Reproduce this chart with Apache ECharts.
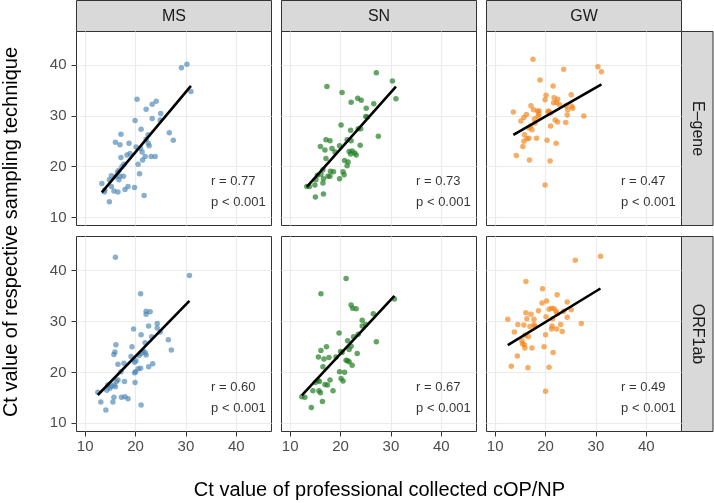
<!DOCTYPE html>
<html><head><meta charset="utf-8">
<script src="https://cdn.jsdelivr.net/npm/echarts@6/dist/echarts.min.js"></script>
<style>html,body{margin:0;padding:0;background:#fff}#c{width:714px;height:503px}</style>
</head><body><div id="c"></div>
<script>
const colNames = ['MS', 'SN', 'GW'];
const rowNames = ['E–gene', 'ORF1ab'];
const xTicks = [10, 20, 30, 40];
const yTicks = [10, 20, 30, 40];
const rValues = ['0.77', '0.73', '0.47', '0.60', '0.67', '0.49'];
const pLabel = 'p < 0.001';
const xTitle = 'Ct value of professional collected cOP/NP';
const yTitle = 'Ct value of respective sampling technique';

const MS_E = [[29.1,39.5],[30.2,40.2],[31.0,34.8],[20.3,33.3],[23.3,32.3],[24.1,32.9],[22.1,31.3],[25.0,30.5],[23.3,29.5],[19.9,29.1],[24.9,29.2],[21.1,27.4],[26.7,26.7],[27.5,25.2],[17.1,26.4],[22.5,26.3],[22.1,25.4],[16.0,24.8],[16.9,24.3],[18.7,24.6],[22.7,24.1],[22.5,24.6],[20.1,23.9],[21.0,23.6],[18.9,22.6],[18.3,22.3],[17.1,21.8],[21.3,22.9],[23.1,22.0],[23.9,22.0],[21.9,22.0],[21.4,21.3],[20.5,20.5],[17.7,20.5],[17.3,20.0],[16.7,19.3],[16.4,18.9],[20.8,18.6],[15.2,18.2],[16.0,18.0],[16.9,18.1],[17.6,18.1],[14.8,17.4],[16.7,17.4],[13.3,16.7],[13.8,15.0],[18.5,16.1],[17.9,15.5],[19.8,15.9],[15.7,15.2],[16.5,15.0],[21.7,14.3],[14.8,13.1],[15.2,16.1],[13.9,15.4]];
const SN_E = [[27.1,38.5],[30.3,36.9],[17.3,35.8],[20.3,34.6],[31.0,33.4],[23.4,33.5],[24.1,33.1],[22.1,32.7],[26.6,32.4],[25.1,31.5],[25.0,29.9],[25.3,29.8],[20.1,28.2],[23.5,27.5],[24.0,27.5],[22.0,27.2],[27.5,26.0],[17.1,25.3],[17.9,25.1],[21.3,25.3],[22.1,25.1],[16.0,24.0],[16.9,23.3],[18.3,23.6],[19.8,24.1],[23.9,24.2],[18.9,22.9],[21.7,23.0],[22.3,23.1],[22.8,22.7],[23.1,22.3],[22.0,22.5],[17.1,21.6],[20.8,21.2],[21.5,20.9],[21.3,20.2],[16.5,19.4],[16.1,18.5],[15.4,18.3],[18.0,19.1],[18.6,19.0],[20.5,19.0],[20.7,18.4],[16.6,17.6],[17.5,18.1],[17.9,18.1],[19.8,17.6],[15.1,17.4],[14.9,16.4],[13.8,16.1],[13.3,16.1],[16.5,16.8],[15.0,14.0],[16.6,14.6]];
const GW_E = [[17.5,41.2],[23.6,39.2],[30.4,39.7],[31.1,38.7],[18.9,37.1],[21.5,35.9],[25.1,34.2],[20.1,34.1],[19.9,33.2],[21.7,33.6],[22.4,33.3],[21.6,32.6],[22.2,32.6],[22.8,32.2],[17.1,32.0],[17.6,31.2],[18.4,31.0],[24.1,32.0],[25.2,31.9],[25.4,31.5],[24.4,31.2],[13.6,30.8],[16.2,30.3],[15.7,29.7],[15.1,29.0],[18.7,31.0],[18.7,30.4],[20.6,31.0],[20.5,30.8],[21.0,30.6],[24.3,30.2],[27.6,30.0],[17.8,29.4],[18.5,29.9],[21.9,29.2],[22.4,28.8],[24.0,28.7],[17.9,28.6],[17.0,28.0],[17.3,27.3],[16.7,27.6],[21.0,28.0],[15.8,26.3],[16.3,25.5],[16.7,25.6],[18.2,25.6],[15.7,25.0],[15.5,24.0],[20.3,25.2],[22.1,24.6],[14.2,22.2],[16.8,21.3],[20.9,21.1],[19.9,16.4]];
const MS_O = [[16.0,42.6],[30.7,39.0],[21.0,35.4],[22.1,32.0],[22.9,31.9],[22.1,31.4],[24.3,29.6],[24.3,28.7],[22.6,29.1],[19.6,28.5],[24.9,27.9],[21.1,27.4],[23.2,27.0],[26.5,26.4],[21.9,25.8],[16.1,25.4],[27.1,24.4],[19.3,25.0],[15.9,24.0],[15.7,23.5],[21.5,24.2],[22.1,23.4],[21.9,23.9],[20.7,23.3],[21.1,23.7],[19.1,23.1],[20.1,22.3],[19.8,22.0],[17.7,21.8],[16.5,21.6],[23.4,21.7],[22.6,21.1],[21.0,20.8],[20.5,20.7],[20.0,20.1],[19.8,19.9],[17.1,20.1],[16.5,18.5],[17.8,18.2],[16.2,18.2],[15.7,17.5],[15.2,17.3],[14.5,17.5],[16.0,17.2],[14.9,16.9],[14.3,16.5],[19.9,18.0],[12.5,16.1],[15.7,15.1],[17.2,15.1],[17.9,15.2],[18.5,14.8],[15.5,14.2],[13.1,14.2],[21.1,13.6],[14.1,12.6]];
const SN_O = [[21.1,38.4],[16.1,35.4],[22.1,33.2],[22.4,32.6],[23.1,32.5],[30.7,34.4],[26.5,31.5],[24.3,30.2],[24.3,29.1],[25.0,29.4],[19.7,27.7],[23.5,27.5],[22.6,27.0],[21.4,26.2],[27.1,26.0],[17.2,25.0],[22.1,25.1],[21.7,24.5],[16.1,24.3],[20.0,24.1],[20.3,23.9],[23.3,23.7],[15.6,23.0],[16.7,22.6],[17.7,22.9],[19.1,23.0],[21.1,22.4],[21.7,22.1],[22.3,21.4],[21.4,22.3],[16.5,21.1],[19.8,20.1],[20.8,20.0],[20.1,18.8],[20.5,18.3],[17.9,18.5],[17.4,17.5],[15.5,18.4],[15.8,18.2],[15.0,18.0],[16.9,17.6],[18.5,16.4],[14.5,16.4],[15.7,16.4],[16.0,16.0],[12.3,15.2],[12.9,15.1],[16.4,14.3],[14.2,13.1]];
const GW_O = [[25.9,42.0],[30.9,42.8],[16.1,37.8],[19.4,36.4],[22.3,35.2],[20.2,34.0],[19.3,33.6],[24.3,33.8],[21.2,32.6],[21.7,32.5],[20.7,32.4],[22.1,32.0],[18.6,32.1],[25.1,32.3],[23.6,32.0],[16.1,31.7],[17.1,31.4],[17.7,30.4],[16.3,30.5],[20.1,30.9],[21.4,30.5],[22.3,31.5],[24.3,30.8],[12.5,30.4],[14.5,29.4],[15.7,29.3],[16.9,29.0],[17.7,29.4],[17.9,29.0],[21.3,29.1],[23.0,29.4],[27.1,29.6],[21.2,28.5],[22.2,28.5],[23.3,28.0],[13.8,27.9],[16.6,27.0],[15.9,27.3],[20.0,27.4],[15.3,26.2],[15.4,25.6],[15.8,25.4],[15.9,24.8],[17.3,24.8],[19.7,25.0],[21.5,23.9],[14.4,23.2],[13.2,21.2],[16.5,20.9],[20.7,21.0],[20.0,16.3]];

const panels = [MS_E, SN_E, GW_E, MS_O, SN_O, GW_O];
const colors = ['rgba(70,130,180,0.8)', 'rgba(34,125,34,0.88)', 'rgba(242,130,20,0.82)'];
const FONT = 'Liberation Sans, Arial, Helvetica, sans-serif';
const X_MIN = 8.27, X_MAX = 47.0, Y_MIN = 8.4, Y_MAX = 46.65;
const ANN_X = 35, ANN_Y = [17, 13];

function fitLine(pts) {
  const n = pts.length;
  let sx = 0, sy = 0;
  pts.forEach(p => { sx += p[0]; sy += p[1]; });
  const mx = sx / n, my = sy / n;
  let sxy = 0, sxx = 0;
  pts.forEach(p => { sxy += (p[0] - mx) * (p[1] - my); sxx += (p[0] - mx) * (p[0] - mx); });
  const b = sxy / sxx, a = my - b * mx;
  const xs = pts.map(p => p[0]);
  const x0 = Math.min(...xs), x1 = Math.max(...xs);
  return [[x0, a + b * x0], [x1, a + b * x1]];
}

const grids = [], xAxes = [], yAxes = [], series = [], graphics = [];
const L0 = 76.5, DX = 205, W = 195;
const tops = [31.5, 236.5], heights = [194, 195];

for (let i = 0; i < 6; i++) {
  const r = Math.floor(i / 3), c = i % 3;
  grids.push({ left: L0 + c * DX, top: tops[r], width: W, height: heights[r],
    show: true, borderColor: '#333', borderWidth: 1, backgroundColor: '#fff', outerBoundsMode: 'none' });
  xAxes.push({ type: 'value', gridIndex: i, min: X_MIN, max: X_MAX,
    axisLine: { show: false },
    axisTick: { show: r === 1, customValues: xTicks, length: 5, lineStyle: { color: '#333' } },
    axisLabel: { show: r === 1, customValues: xTicks, margin: 8, color: '#4d4d4d', fontSize: 15, fontFamily: FONT },
    splitLine: { show: true, lineStyle: { color: '#ebebeb', width: 1.1 } } });
  yAxes.push({ type: 'value', gridIndex: i, min: Y_MIN, max: Y_MAX,
    axisLine: { show: false },
    axisTick: { show: c === 0, customValues: yTicks, length: 5, lineStyle: { color: '#333' } },
    axisLabel: { show: c === 0, customValues: yTicks, margin: 10, color: '#4d4d4d', fontSize: 15, fontFamily: FONT },
    splitLine: { show: true, lineStyle: { color: '#ebebeb', width: 1.1 } } });
  series.push({ type: 'scatter', xAxisIndex: i, yAxisIndex: i, data: panels[i], symbolSize: 5.5,
    itemStyle: { color: colors[c] }, z: 2, silent: true });
  series.push({ type: 'line', xAxisIndex: i, yAxisIndex: i, data: fitLine(panels[i]), symbol: 'none',
    lineStyle: { color: '#000', width: 2.6 }, z: 3, silent: true });
  series.push({ type: 'scatter', xAxisIndex: i, yAxisIndex: i, symbolSize: 0, z: 4, silent: true,
    data: [[ANN_X, ANN_Y[0]], [ANN_X, ANN_Y[1]]],
    label: { show: true, position: 'right', distance: 0, color: '#000', fontSize: 13, fontFamily: FONT,
      formatter: p => p.dataIndex === 0 ? 'r = ' + rValues[i] : pLabel } });
}

colNames.forEach((name, c) => {
  graphics.push({ type: 'rect', shape: { x: L0 + c * DX, y: 0.5, width: W, height: 31 },
    style: { fill: '#d9d9d9', stroke: '#333', lineWidth: 1 } });
  graphics.push({ type: 'text', x: L0 + c * DX + W / 2, y: 16.5,
    style: { text: name, align: 'center', verticalAlign: 'middle', fill: '#1a1a1a', font: '16px ' + FONT } });
});
rowNames.forEach((name, r) => {
  graphics.push({ type: 'rect', shape: { x: L0 + 2 * DX + W, y: tops[r], width: 31.5, height: heights[r] },
    style: { fill: '#d9d9d9', stroke: '#333', lineWidth: 1 } });
  graphics.push({ type: 'text', x: L0 + 2 * DX + W + 16, y: tops[r] + heights[r] / 2, rotation: -Math.PI / 2,
    style: { text: name, align: 'center', verticalAlign: 'middle', fill: '#1a1a1a', font: '16px ' + FONT } });
});
graphics.push({ type: 'text', x: 379.5, y: 490,
  style: { text: xTitle, align: 'center', verticalAlign: 'middle', fill: '#000', font: '20px ' + FONT } });
graphics.push({ type: 'text', x: 11, y: 232, rotation: Math.PI / 2,
  style: { text: yTitle, align: 'center', verticalAlign: 'middle', fill: '#000', font: '20px ' + FONT } });

const chart = echarts.init(document.getElementById('c'), null, { renderer: 'canvas' });
chart.setOption({ animation: false, backgroundColor: '#fff', grid: grids, xAxis: xAxes, yAxis: yAxes, series, graphic: graphics });
</script></body></html>
